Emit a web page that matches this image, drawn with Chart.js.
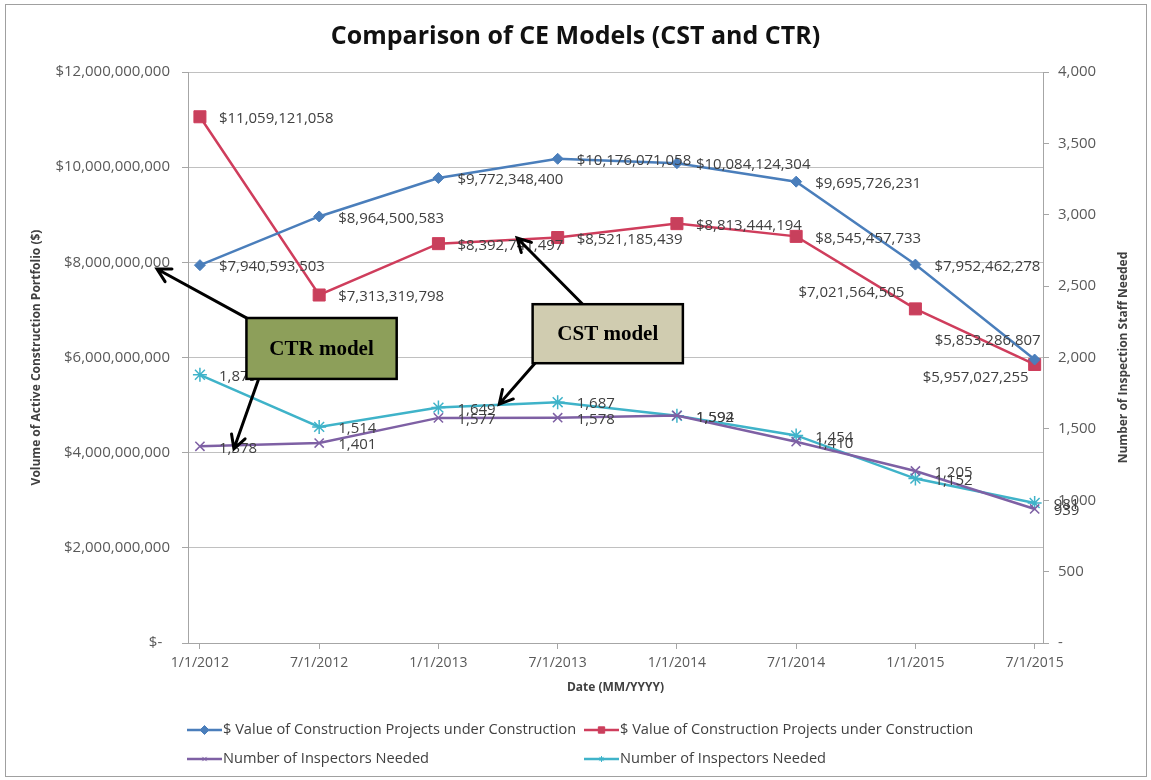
<!DOCTYPE html>
<html lang="en">
<head>
<meta charset="UTF-8">
<title>Comparison of CE Models (CST and CTR)</title>
<script src="https://cdn.jsdelivr.net/npm/chart.js"></script>
<style>
  body { margin: 0; background: #fff; }
  canvas { display: block; }
</style>
</head>
<body>
<canvas id="ceChart" width="1151" height="780"></canvas>
<script>
// reporting dates (x axis)
var dates = ['1/1/2012', '7/1/2012', '1/1/2013', '7/1/2013', '1/1/2014', '7/1/2014', '1/1/2015', '7/1/2015'];

// $ value of projects under construction
var ctrValue = [7940593503, 8964500583, 9772348400, 10176071058, 10084124304, 9695726231, 7952462278, 5957027255];
var cstValue = [11059121058, 7313319798, 8392741497, 8521185439, 8813444194, 8545457733, 7021564505, 5853286807];

// number of inspectors needed
var ctrStaff = [1378, 1401, 1577, 1578, 1594, 1410, 1205, 939];
var cstStaff = [1879, 1514, 1649, 1687, 1592, 1454, 1152, 981];

// axis ticks
var dollarTicks = [0, 2000000000, 4000000000, 6000000000, 8000000000, 10000000000, 12000000000];
var staffTicks = [0, 500, 1000, 1500, 2000, 2500, 3000, 3500, 4000];

var seriesLabel = ['$ Value of Construction Projects under Construction', '$ Value of Construction Projects under Construction',
                   'Number of Inspectors Needed', 'Number of Inspectors Needed'];

// value labels that don't sit to the right of their point
var labelSpots = {
  '0-7': { align: 'right', dx: -6, dy: 18 },
  '1-6': { align: 'right', dx: -11, dy: -16 },
  '1-7': { align: 'right', dx: 6, dy: -24 }
};

// callout boxes, in data units (x index, left-axis $)
var notes = [
  { text: 'CTR model', fill: '#8D9F5A', box: [0.39, 6.83e9, 1.65, 5.55e9],
    arrows: [[0.42, 6.79e9, -0.36, 7.86e9], [0.49, 5.53e9, 0.285, 4.08e9]] },
  { text: 'CST model', fill: '#D0CCB0', box: [2.79, 7.12e9, 4.05, 5.88e9],
    arrows: [[3.21, 7.12e9, 2.66, 8.51e9], [2.81, 5.88e9, 2.51, 5.02e9]] }
];

Chart.defaults.font.family = "'Open Sans', sans-serif";
Chart.defaults.color = '#595959';

function pts(arr) {
  return arr.map(function (v, i) { return { x: i, y: v }; });
}

function money(v) {
  return '$' + v.toLocaleString('en-US');
}

var valueLabels = {
  id: 'valueLabels',
  afterDatasetsDraw: function (chart) {
    var ctx = chart.ctx;
    ctx.save();
    ctx.font = "15px 'Open Sans', sans-serif";
    ctx.fillStyle = '#404040';
    ctx.textBaseline = 'middle';
    chart.data.datasets.forEach(function (ds, di) {
      var meta = chart.getDatasetMeta(di);
      meta.data.forEach(function (pt, i) {
        var v = ds.data[i].y;
        var txt = ds.yAxisID === 'yL' ? money(v) : v.toLocaleString('en-US');
        var spot = labelSpots[di + '-' + i] || { align: 'left', dx: 19, dy: 2 };
        ctx.textAlign = spot.align;
        ctx.fillText(txt, pt.x + spot.dx, pt.y + spot.dy);
      });
    });
    ctx.restore();
  }
};

function arrow(ctx, x0, y0, x1, y1) {
  var a = Math.atan2(y1 - y0, x1 - x0);
  var h = 15;
  ctx.beginPath();
  ctx.moveTo(x0, y0);
  ctx.lineTo(x1, y1);
  ctx.moveTo(x1 - h * Math.cos(a - 0.5), y1 - h * Math.sin(a - 0.5));
  ctx.lineTo(x1, y1);
  ctx.lineTo(x1 - h * Math.cos(a + 0.5), y1 - h * Math.sin(a + 0.5));
  ctx.stroke();
}

var callouts = {
  id: 'callouts',
  afterDatasetsDraw: function (chart) {
    var ctx = chart.ctx, sx = chart.scales.x, sy = chart.scales.yL;
    ctx.save();
    ctx.strokeStyle = '#000';
    ctx.lineWidth = 3;
    ctx.lineCap = 'round';
    ctx.lineJoin = 'miter';
    notes.forEach(function (n) {
      n.arrows.forEach(function (a) {
        arrow(ctx, sx.getPixelForValue(a[0]), sy.getPixelForValue(a[1]),
              sx.getPixelForValue(a[2]), sy.getPixelForValue(a[3]));
      });
      var x0 = sx.getPixelForValue(n.box[0]), y0 = sy.getPixelForValue(n.box[1]);
      var x1 = sx.getPixelForValue(n.box[2]), y1 = sy.getPixelForValue(n.box[3]);
      ctx.fillStyle = n.fill;
      ctx.fillRect(x0, y0, x1 - x0, y1 - y0);
      ctx.lineWidth = 2.5;
      ctx.strokeRect(x0, y0, x1 - x0, y1 - y0);
      ctx.lineWidth = 3;
      ctx.fillStyle = '#000';
      ctx.font = "bold 21px 'Liberation Serif', serif";
      ctx.textAlign = 'center';
      ctx.textBaseline = 'middle';
      ctx.fillText(n.text, (x0 + x1) / 2, (y0 + y1) / 2 + 1);
    });
    ctx.restore();
  }
};

// two-column legend, right axis title and outer frame
var extras = {
  id: 'extras',
  afterDraw: function (chart) {
    var ctx = chart.ctx;
    var yR = chart.scales.yR, area = chart.chartArea;
    ctx.save();

    ctx.fillStyle = '#404040';
    ctx.font = "bold 12px 'Open Sans', sans-serif";
    ctx.textAlign = 'center';
    ctx.textBaseline = 'middle';
    ctx.translate(yR.right - 27, (area.top + area.bottom) / 2);
    ctx.rotate(-Math.PI / 2);
    ctx.fillText('Number of Inspection Staff Needed', 0, 0);
    ctx.setTransform(1, 0, 0, 1, 0, 0);

    var cols = [187, 584], rows = [730, 759];
    chart.data.datasets.forEach(function (ds, i) {
      var x = cols[i % 2], y = rows[Math.floor(i / 2)];
      ctx.strokeStyle = ds.borderColor;
      ctx.fillStyle = ds.backgroundColor;
      ctx.lineWidth = 2.5;
      ctx.beginPath();
      ctx.moveTo(x, y);
      ctx.lineTo(x + 35, y);
      ctx.stroke();
      ctx.lineWidth = 1;
      Chart.helpers.drawPoint(ctx, { pointStyle: ds.pointStyle, radius: i < 2 ? 4.5 : 3, borderWidth: 1 }, x + 17.5, y);
      ctx.fillStyle = '#404040';
      ctx.font = "14.6px 'Open Sans', sans-serif";
      ctx.textAlign = 'left';
      ctx.fillText(ds.label, x + 36, y);
    });

    ctx.strokeStyle = '#A0A0A0';
    ctx.lineWidth = 1;
    ctx.strokeRect(5.5, 4.5, 1141, 772);
    ctx.restore();
  }
};

new Chart(document.getElementById('ceChart'), {
  type: 'line',
  data: {
    datasets: [
      {
        label: seriesLabel[0], data: pts(ctrValue), yAxisID: 'yL',
        borderColor: '#4A7EBB', backgroundColor: '#4A7EBB', borderWidth: 2.5,
        pointStyle: 'rectRot', pointRadius: 5.5, pointBorderWidth: 1
      },
      {
        label: seriesLabel[1], data: pts(cstValue), yAxisID: 'yL',
        borderColor: '#CF3D5C', backgroundColor: '#C8405C', borderWidth: 2.5,
        pointStyle: 'rect', pointRadius: 8.5, pointBorderWidth: 1
      },
      {
        label: seriesLabel[2], data: pts(ctrStaff), yAxisID: 'yR',
        borderColor: '#7E60A4', backgroundColor: '#7E60A4', borderWidth: 2.5,
        pointStyle: 'crossRot', pointRadius: 6.5, pointBorderWidth: 1.5
      },
      {
        label: seriesLabel[3], data: pts(cstStaff), yAxisID: 'yR',
        borderColor: '#3FB3C9', backgroundColor: '#3FB3C9', borderWidth: 2.5,
        pointStyle: 'star', pointRadius: 7, pointBorderWidth: 1.5
      }
    ]
  },
  options: {
    responsive: false,
    animation: false,
    events: [],
    layout: { padding: { left: 0, right: 0, top: 0, bottom: 70 } },
    elements: { line: { tension: 0 } },
    plugins: {
      legend: { display: false },
      tooltip: { enabled: false },
      title: {
        display: true,
        text: 'Comparison of CE Models (CST and CTR)',
        color: '#111',
        font: { size: 25, weight: 'bold' },
        padding: { top: 22, bottom: 20 }
      }
    },
    scales: {
      x: {
        type: 'linear',
        min: -0.1,
        max: 7.07,
        afterBuildTicks: function (s) { s.ticks = dates.map(function (d, i) { return { value: i }; }); },
        afterFit: function (s) { s.height = 67; },
        ticks: {
          maxRotation: 0, padding: 6, color: '#595959', font: { size: 14 },
          callback: function (v) { return dates[v]; }
        },
        grid: { drawOnChartArea: false, drawTicks: true, tickLength: 6, color: '#A6A6A6' },
        border: { color: '#A6A6A6' },
        title: {
          display: true, text: 'Date (MM/YYYY)', color: '#404040',
          font: { size: 12, weight: 'bold' }, padding: { top: 0, bottom: 14.8 }
        }
      },
      yL: {
        position: 'left',
        min: 0,
        max: 12000000000,
        afterBuildTicks: function (s) { s.ticks = dollarTicks.map(function (v) { return { value: v }; }); },
        afterFit: function (s) { s.width = 188; },
        ticks: {
          padding: 12, color: '#595959', font: { size: 15 },
          callback: function (v) { return v === 0 ? '$-  ' : money(v); }
        },
        grid: { color: '#C0C0C0', tickLength: 6, tickColor: '#A6A6A6' },
        border: { color: '#A6A6A6' },
        title: {
          display: true, text: 'Volume of Active Construction Portfolio ($)', color: '#404040',
          font: { size: 12, weight: 'bold' }, padding: { top: 29.8, bottom: 0 }
        }
      },
      yR: {
        position: 'right',
        min: 0,
        max: 4000,
        afterBuildTicks: function (s) { s.ticks = staffTicks.map(function (v) { return { value: v }; }); },
        afterFit: function (s) { s.width = 108; },
        ticks: {
          padding: 9, color: '#595959', font: { size: 15 },
          callback: function (v) { return v === 0 ? '-' : v.toLocaleString('en-US'); }
        },
        grid: { drawOnChartArea: false, tickLength: 6, color: '#A6A6A6' },
        border: { color: '#A6A6A6' }
      }
    }
  },
  plugins: [valueLabels, callouts, extras]
});
</script>
</body>
</html>
